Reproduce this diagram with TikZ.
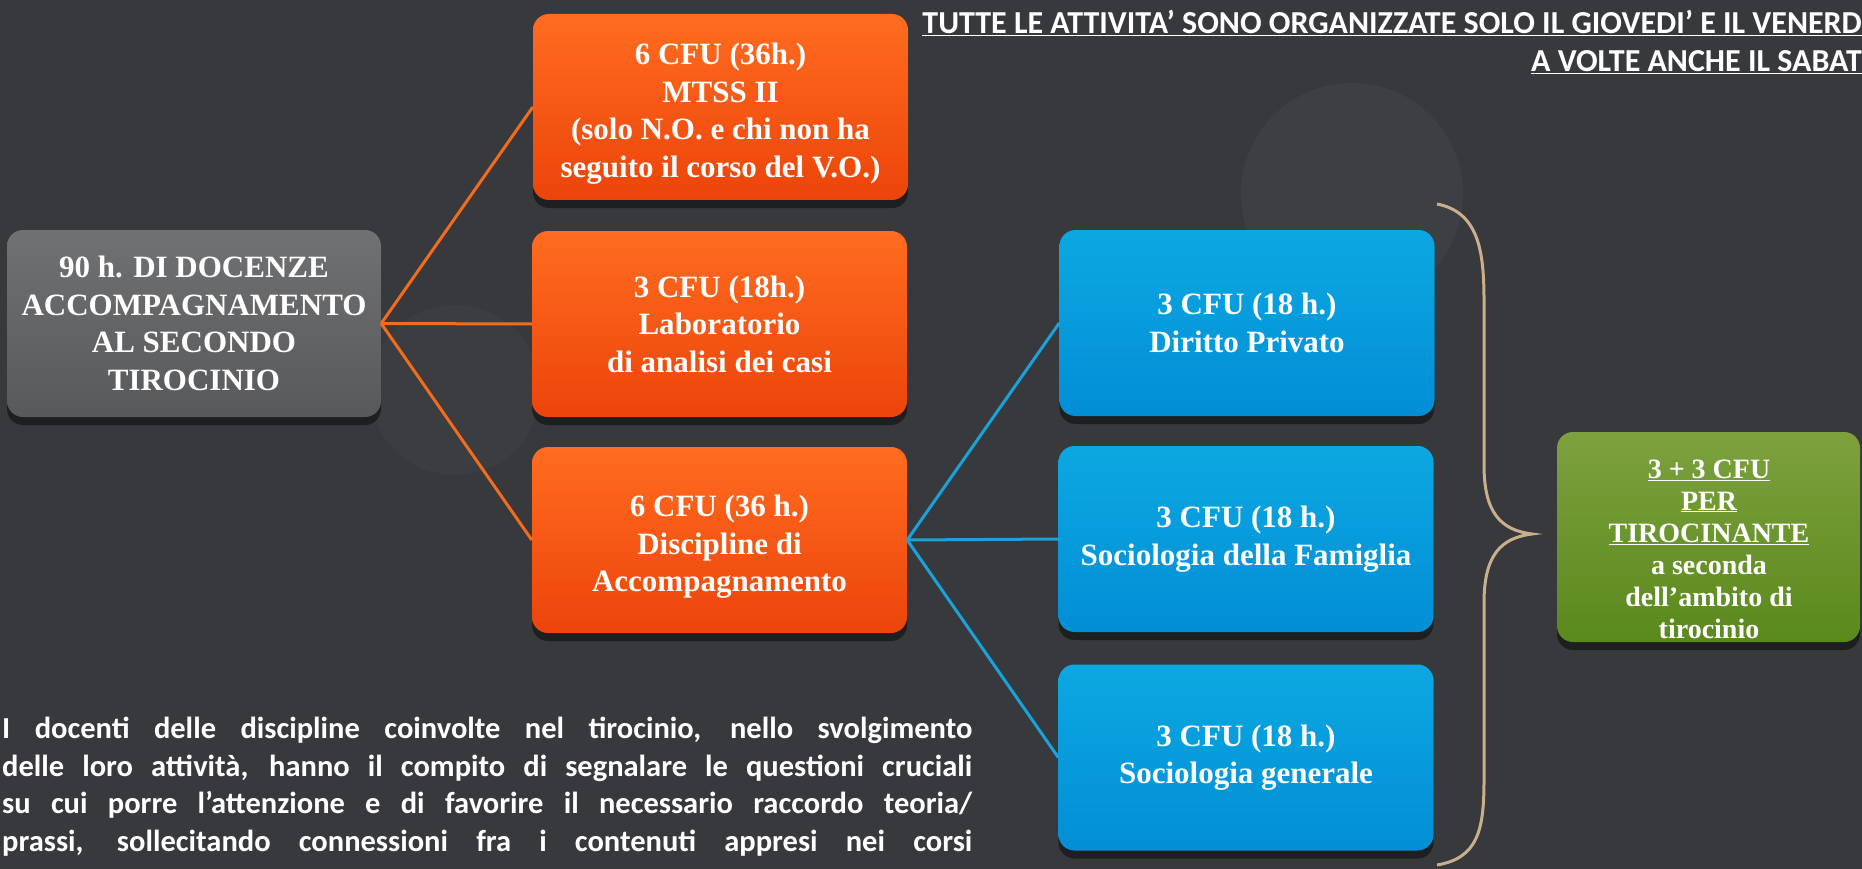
\documentclass[tikz,border=0pt]{standalone}
\usepackage{fontspec}
\setmainfont{Liberation Serif}
\newfontfamily\calibri{Carlito}
\usetikzlibrary{shadows}
\definecolor{board}{HTML}{37393C}
\definecolor{orangetop}{HTML}{FF6C20}
\definecolor{orangebot}{HTML}{EC440A}
\definecolor{bluetop}{HTML}{0CA8E2}
\definecolor{bluebot}{HTML}{028ED5}
\definecolor{graytop}{HTML}{707173}
\definecolor{graybot}{HTML}{58595B}
\definecolor{greentop}{HTML}{7DA13E}
\definecolor{greenbot}{HTML}{5A891C}
\definecolor{orangeline}{HTML}{F36C1E}
\definecolor{blueline}{HTML}{1AA2DA}
\definecolor{bracecol}{HTML}{C9AF8C}
\newcommand{\padtop}{\rule{0pt}{35pt}}
\begin{document}
\begin{tikzpicture}[x=1pt,y=-1pt]
	\tikzstyle{box} = [rounded corners=16pt, minimum width=375pt, minimum height=186pt, inner sep=0pt, text=white, align=center, font=\bfseries\fontsize{31}{37.5}\selectfont, drop shadow={fill=black,opacity=0.45,shadow xshift=0pt,shadow yshift=-8pt}]
	\tikzstyle{obox} = [box, top color=orangetop, bottom color=orangebot]
	\tikzstyle{bbox} = [box, top color=bluetop, bottom color=bluebot]
	\tikzstyle{oline} = [draw=orangeline, line width=3pt]
	\tikzstyle{bline} = [draw=blueline, line width=3pt]
	\tikzstyle{head} = [anchor=base east, inner sep=0pt, text=white, font=\calibri\bfseries\fontsize{32}{36}\selectfont]
	\fill[board] (0,0) rectangle (1862,869);
	\useasboundingbox (0,0) rectangle (1862,869);
	\fill[white, opacity=0.035] (1352,194) circle (111);
	\fill[white, opacity=0.025] (455,390) circle (85);
	\node[box, top color=graytop, bottom color=graybot, minimum width=374pt, minimum height=187pt] (root) at (194,323.5) {90 h. DI DOCENZE\\ACCOMPAGNAMENTO\\AL SECONDO\\TIROCINIO};
	\node[obox] (mtss) at (720.5,107) {\padtop 6 CFU (36h.)\\MTSS II\\(solo N.O. e chi non ha\\seguito il corso del V.O.)};
	\node[obox] (lab) at (719.5,324) {3 CFU (18h.)\\Laboratorio\\di analisi dei casi};
	\node[obox] (disc) at (719.5,540) {\padtop 6 CFU (36 h.)\\Discipline di\\Accompagnamento};
	\node[bbox] (dir) at (1247,323) {3 CFU (18 h.)\\Diritto Privato};
	\node[bbox] (socfam) at (1246,539) {3 CFU (18 h.)\\Sociologia della Famiglia};
	\node[bbox] (socgen) at (1246,757.5) {3 CFU (18 h.)\\Sociologia generale};
	\node[box, top color=greentop, bottom color=greenbot, minimum width=303pt, minimum height=210pt] (tiro) at (1708.5,537) {};
	\node[text=white, align=center, inner sep=0pt, font=\bfseries\fontsize{28}{32}\selectfont] (tirotext) at (1709,549) {\underline{3 + 3 CFU}\\\underline{PER}\\\underline{TIROCINANTE}\\a seconda\\dell’ambito di\\tirocinio};
	\path[oline] (root.east) edge (mtss.west) edge (lab.west) edge (disc.west);
	\path[bline] (disc.east) edge (dir.west) edge (socfam.west) edge (socgen.west);
	\coordinate (bt) at (1437,204);
	\coordinate (tip) at (1532,534);
	\coordinate (bb) at (1437,865);
	\draw[bracecol, line width=3pt] (bt) .. controls (1478,212) and (1484,250) .. (1484,300) -- (1484,465) .. controls (1484,512) and (1500,530) .. (tip) .. controls (1500,538) and (1484,556) .. (1484,603) -- (1484,780) .. controls (1484,830) and (1478,858) .. (bb);
	\node[head] (head1) at (1862,34) {\underline{TUTTE LE ATTIVITA’ SONO ORGANIZZATE SOLO IL GIOVEDI’ E IL VENERD}};
	\node[head] (head2) at (1862,72) {\underline{A VOLTE ANCHE IL SABAT}};
	\node[anchor=base west, inner sep=0pt, text=white, align=left, font=\calibri\bfseries\fontsize{30.5}{37.5}\selectfont] (note) at (2,851) {\makebox[970pt][s]{I docenti delle discipline coinvolte nel tirocinio, nello svolgimento}\\\makebox[970pt][s]{delle loro attività, hanno il compito di segnalare le questioni cruciali}\\\makebox[970pt][s]{su cui porre l’attenzione e di favorire il necessario raccordo teoria/}\\\makebox[970pt][s]{prassi, sollecitando connessioni fra i contenuti appresi nei corsi}};
\end{tikzpicture}
\end{document}
